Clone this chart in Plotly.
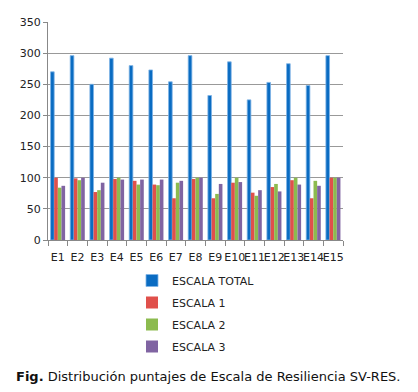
import plotly.graph_objects as go

categories = ["E1", "E2", "E3", "E4", "E5", "E6", "E7", "E8", "E9", "E10", "E11", "E12", "E13", "E14", "E15"]
escala_total = [270, 296, 250, 292, 280, 273, 254, 296, 232, 286, 225, 253, 283, 248, 296]
escala_1 = [100, 99, 77, 98, 95, 89, 67, 98, 67, 92, 76, 85, 96, 67, 100]
escala_2 = [84, 96, 80, 100, 89, 88, 92, 100, 74, 100, 71, 90, 100, 95, 100]
escala_3 = [87, 100, 92, 97, 97, 97, 95, 100, 90, 93, 80, 78, 89, 87, 100]
y_ticks = [0, 50, 100, 150, 200, 250, 300, 350]

series = [
    ("ESCALA TOTAL", escala_total, "#0a6cc2", "#7fb4e6"),
    ("ESCALA 1", escala_1, "#e0504b", "#e0504b"),
    ("ESCALA 2", escala_2, "#8cbb4f", "#8cbb4f"),
    ("ESCALA 3", escala_3, "#8064a2", "#8064a2"),
]

fig = go.Figure()
for i, (name, vals, col, edge) in enumerate(series):
    fig.add_trace(go.Bar(
        x=categories, y=vals, name=name, legendgroup=name,
        marker=dict(color=col, line=dict(color=edge, width=0.8 if i == 0 else 0)),
    ))

font = "DejaVu Sans, Verdana, sans-serif"
W, H = 418, 392
OFF = 8  # page body margin offset
top = 22 - OFF
left = 48 - OFF
right = W - (343 - OFF)
paper_h = H - top


def py(pix):
    return (H - (pix - OFF)) / paper_h


def px(pix):
    return ((pix - OFF) - left) / (W - left - right)


fig.update_layout(
    width=W, height=H,
    margin=dict(l=left, r=right, t=top, b=0, autoexpand=False),
    paper_bgcolor="white", plot_bgcolor="white",
    barmode="group", bargap=0.26, bargroupgap=0,
    font=dict(family=font, size=11, color="#222"),
    showlegend=True,
    legend=dict(x=px(132), y=py(266), xanchor="left", yanchor="top",
                orientation="v", traceorder="grouped", tracegroupgap=3,
                font=dict(size=11, color="#222"), itemwidth=30),
    xaxis=dict(tickson="boundaries", ticks="outside", ticklen=5, tickcolor="#888",
               showline=True, linecolor="#888", linewidth=1, showgrid=False,
               tickfont=dict(size=11), tickangle=0, ticklabelstandoff=7),
    yaxis=dict(domain=[py(240), 1], range=[0, 350], tickvals=y_ticks, ticks="outside",
               ticklen=4, tickcolor="#888",
               showline=True, linecolor="#888", linewidth=1,
               showgrid=True, gridcolor="#999", gridwidth=1, zeroline=False,
               tickfont=dict(size=11)),
    annotations=[dict(text="<b>Fig.</b> Distribución puntajes de Escala de Resiliencia SV-RES.",
                      xref="paper", yref="paper", x=px(209), y=py(376),
                      xanchor="center", yanchor="middle", showarrow=False,
                      font=dict(family=font, size=13, color="#111"))],
)

fig.write_html("out.html")
